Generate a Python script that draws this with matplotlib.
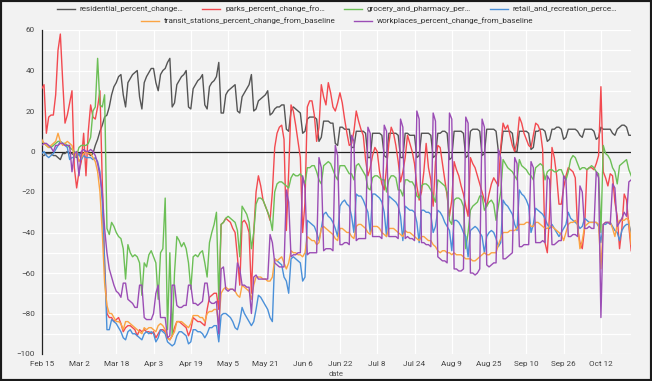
import pandas as pd
import matplotlib
matplotlib.use("Agg")
import matplotlib.pyplot as plt
from matplotlib.ticker import MultipleLocator
from matplotlib.patches import Rectangle

plt.rcParams['font.family'] = ['Roboto', 'DejaVu Sans']

# datos diarios desde el 15 de febrero (una fila = una semana, sab..vie)
start = "2020-02-15"

residential = [
    -2, -2, -1, -1, -1, -2, -2,
    -3, -4, -1, -1, 0, -1, -1,
    -2, -3, -1, -1, -1, 0, -1,
    -2, -1, 3, 6, 10, 13, 17,
    18, 22, 28, 32, 34, 37, 38,
    28, 22, 34, 36, 38, 39, 40,
    27, 21, 34, 37, 39, 41, 41,
    34, 30, 38, 40, 41, 44, 46,
    22, 24, 33, 35, 37, 38, 40,
    22, 21, 31, 33, 35, 36, 38,
    23, 21, 32, 34, 35, 37, 44,
    19, 19, 28, 30, 31, 32, 33,
    20, 19, 27, 29, 31, 33, 38,
    20, 21, 25, 26, 27, 28, 30,
    18, 19, 21, 22, 22, 23, 23,
    11, 10, 20, 22, 21, 20, 19,
    9, 10, 16, 17, 17, 17, 16,
    5, 7, 15, 15, 15, 14, 14,
    4, 3, 12, 12, 11, 11, 11,
    2, 2, 10, 10, 10, 10, 9,
    -3, -3, 9, 9, 9, 9, 8,
    -2, -3, 9, 9, 9, 9, 8,
    -3, -3, 9, 9, 8, 8, 8,
    -3, -2, 9, 9, 9, 9, 8,
    -3, -2, 9, 9, 10, 10, 9,
    -4, -3, 10, 10, 10, 10, 9,
    -3, -2, 10, 11, 11, 11, 10,
    -2, -1, 11, 11, 11, 11, 10,
    0, 0, 10, 10, 10, 10, 9,
    0, 0, 10, 10, 10, 10, 9,
    1, 2, 10, 10, 11, 11, 10,
    5, 6, 11, 11, 12, 12, 11,
    6, 7, 11, 11, 11, 11, 10,
    8, 7, 11, 11, 11, 11, 10,
    6, 7, 12, 11, 11, 11, 11,
    9, 8, 11, 12, 13, 13, 12,
    8, 8]

parks = [
    31, 33, 9, 17, 18, 18, 28,
    50, 58, 35, 14, 18, 24, 30,
    -8, -18, -10, -5, 9, -12, 10,
    23, 17, 16, 22, 30, -15, -55,
    -80, -82, -82, -84, -83, -82, -85,
    -89, -87, -86, -86, -87, -88, -91,
    -88, -89, -88, -89, -89, -90, -89,
    -92, -90, -88, -88, -89, -92, -93,
    -91, -87, -84, -84, -85, -86, -87,
    -91, -88, -82, -83, -84, -84, -85,
    -86, -78, -72, -71, -70, -70, -78,
    -36, -35, -33, -34, -35, -38, -40,
    -52, -66, -35, -34, -36, -40, -70,
    -40, -20, -12, -17, -24, -27, -30,
    -34, -20, 2, 9, 12, 13, 6,
    -39, -10, 23, 20, 13, 5, -3,
    -40, -25, 22, 25, 25, 18, 5,
    12, 33, 27, 23, 34, 29, 22,
    20, 24, 29, 24, 16, 9, 3,
    4, 10, 20, 15, 11, 8, -4,
    -12, -8, -2, 2, 0, -10, -16,
    -19, -8, 4, 12, 9, 3, -5,
    -15, -10, -3, 8, 4, 0, -6,
    -17, -24, -20, -10, 4, -8, -14,
    -27, -5, 3, 2, -6, -14, -22,
    -32, -24, -5, -9, -12, -17, -21,
    -27, -32, -3, -6, -8, -12, -16,
    -20, -24, -27, -21, -16, -13, -15,
    -17, 2, 14, 11, 13, 8, 3,
    0, 5, 17, 14, 9, 6, 3,
    2, 8, 14, 13, 10, 1, -45,
    -50, -30, 2, -3, -12, -26, -26,
    -18, -12, -8, -9, -10, -13, -38,
    -45, -48, -38, -9, -8, -8, -9,
    -6, -2, 32, -10, -13, -17, -11,
    -12, -25, -32, -48, -38, -21, -24,
    -37, -49]

grocery = [
    5, 4, 3, 2, 2, 3, 4,
    5, 5, 4, 4, 3, 2, 1,
    0, -2, 2, 3, 3, 3, 4,
    7, 20, 22, 46, 23, 22, 28,
    -38, -41, -35, -37, -40, -42, -43,
    -48, -63, -46, -50, -52, -51, -52,
    -55, -71, -55, -57, -51, -49, -52,
    -55, -73, -50, -48, -23, -88, -50,
    -91, -60, -42, -44, -47, -45, -48,
    -55, -68, -52, -51, -52, -50, -49,
    -55, -62, -45, -40, -36, -30, -73,
    -36, -35, -33, -32, -33, -34, -35,
    -39, -52, -27, -29, -31, -35, -48,
    -40, -26, -23, -23, -24, -27, -30,
    -33, -39, -20, -16, -15, -15, -16,
    -17, -18, -13, -11, -12, -12, -11,
    -13, -16, -8, -8, -7, -7, -10,
    -14, -16, -7, -6, -5, -6, -9,
    -12, -14, -7, -7, -7, -9, -11,
    -11, -14, -7, -6, -8, -10, -12,
    -18, -19, -13, -12, -12, -13, -14,
    -14, -20, -14, -12, -12, -13, -19,
    -19, -22, -14, -14, -15, -15, -17,
    -22, -23, -17, -16, -16, -17, -19,
    -22, -25, -14, -15, -16, -17, -20,
    -34, -36, -24, -23, -23, -24, -27,
    -48, -40, -29, -27, -26, -25, -22,
    -22, -29, -27, -25, -24, -26, -34,
    -27, -20, -4, -6, -8, -9, -10,
    -12, -14, -4, -7, -8, -9, -11,
    -12, -14, -8, -7, -6, -7, -14,
    -10, -9, -9, -10, -10, -9, -9,
    -12, -14, -10, -4, -2, -3, -6,
    -9, -8, -8, -9, -8, -7, -8,
    -10, -11, -40, 3, -1, -2, -4,
    -8, -10, -16, -7, -6, -5, -4,
    -9, -12]

retail = [
    -1, 0, -2, -3, -2, -1, 1,
    3, 5, 4, 3, 2, -4, -3,
    -3, -2, -1, -4, -2, -3, -3,
    -3, -4, -3, -5, -10, -25, -55,
    -88, -88, -83, -84, -85, -87, -89,
    -92, -93, -89, -88, -90, -90, -91,
    -92, -93, -90, -89, -90, -89, -90,
    -94, -92, -88, -89, -90, -94, -95,
    -96, -95, -91, -89, -89, -90, -91,
    -95, -94, -88, -88, -89, -89, -90,
    -92, -90, -87, -87, -86, -86, -94,
    -81, -80, -80, -81, -82, -84, -87,
    -88, -84, -77, -80, -82, -84, -86,
    -84, -78, -71, -72, -74, -76, -78,
    -82, -84, -53, -54, -55, -56, -62,
    -64, -70, -53, -52, -53, -54, -55,
    -64, -62, -34, -35, -36, -37, -40,
    -44, -38, -31, -30, -32, -33, -35,
    -38, -42, -27, -25, -24, -26, -27,
    -32, -40, -21, -22, -22, -24, -27,
    -30, -40, -21, -21, -22, -23, -25,
    -30, -42, -22, -23, -24, -25, -27,
    -32, -44, -27, -28, -29, -29, -30,
    -35, -45, -29, -29, -30, -30, -31,
    -40, -37, -29, -30, -32, -35, -37,
    -39, -49, -34, -34, -35, -37, -40,
    -42, -52, -39, -38, -37, -38, -40,
    -42, -50, -42, -40, -39, -40, -43,
    -47, -45, -24, -26, -27, -29, -31,
    -36, -39, -19, -21, -22, -24, -27,
    -40, -36, -28, -29, -30, -31, -33,
    -36, -38, -36, -38, -40, -42, -40,
    -38, -36, -30, -33, -34, -35, -36,
    -38, -37, -33, -34, -35, -35, -35,
    -35, -37, -45, -36, -36, -35, -35,
    -37, -39, -40, -44, -39, -37, -36,
    -36, -40]

transit = [
    6, 4, 3, 2, 3, 4, 5,
    9, 5, 3, 4, 5, 4, 3,
    -3, 0, -5, -3, -1, 0, -1,
    -1, -3, -5, -10, -20, -40, -65,
    -76, -80, -80, -82, -84, -84, -85,
    -88, -84, -84, -85, -86, -87, -88,
    -89, -90, -87, -88, -87, -87, -88,
    -89, -86, -85, -86, -88, -92, -93,
    -91, -89, -84, -84, -84, -85, -86,
    -87, -85, -81, -81, -81, -82, -82,
    -84, -80, -79, -79, -78, -78, -85,
    -70, -68, -67, -68, -68, -68, -69,
    -71, -72, -66, -67, -68, -69, -73,
    -66, -62, -62, -62, -63, -63, -64,
    -64, -62, -53, -54, -53, -52, -55,
    -58, -55, -49, -50, -50, -51, -51,
    -52, -50, -42, -43, -44, -44, -46,
    -45, -38, -37, -38, -39, -40, -41,
    -43, -44, -38, -38, -39, -40, -40,
    -42, -43, -37, -36, -36, -37, -38,
    -40, -41, -37, -37, -37, -38, -40,
    -41, -42, -38, -38, -38, -39, -40,
    -41, -42, -39, -40, -40, -41, -42,
    -43, -44, -42, -42, -43, -44, -44,
    -46, -47, -49, -50, -49, -49, -50,
    -50, -51, -50, -51, -51, -51, -52,
    -53, -53, -53, -54, -54, -53, -52,
    -51, -50, -51, -51, -50, -50, -50,
    -46, -43, -40, -40, -40, -39, -39,
    -39, -38, -36, -36, -36, -35, -35,
    -37, -37, -35, -35, -36, -37, -38,
    -38, -37, -37, -38, -39, -40, -41,
    -44, -40, -36, -35, -35, -34, -36,
    -48, -44, -37, -36, -35, -35, -35,
    -35, -36, -58, -36, -35, -35, -35,
    -38, -42, -36, -34, -34, -34, -33,
    -34, -46]

workplaces = [
    3, 4, 4, 3, 2, 0, 3,
    3, 4, 4, 3, 3, 3, -10,
    -1, 0, -12, 0, 1, 0, 0,
    1, 0, -2, -6, -12, -20, -38,
    -50, -58, -62, -66, -69, -70, -72,
    -65, -65, -73, -74, -75, -77, -77,
    -66, -66, -82, -83, -83, -83, -80,
    -70, -66, -82, -82, -82, -92, -91,
    -66, -66, -76, -77, -77, -76, -76,
    -66, -66, -75, -75, -76, -75, -74,
    -65, -65, -74, -75, -75, -74, -90,
    -58, -57, -68, -69, -68, -68, -69,
    -55, -58, -66, -66, -67, -67, -80,
    -62, -61, -63, -63, -63, -63, -63,
    -41, -45, -55, -56, -57, -57, -57,
    -19, -25, -52, -51, -51, -50, -50,
    -12, -18, -51, -50, -50, -50, -50,
    -3, -8, -49, -48, -48, -48, -49,
    3, -2, -46, -46, -45, -45, -46,
    8, 5, -44, -43, -43, -43, -43,
    12, 9, -42, -42, -42, -42, -43,
    13, 10, -42, -42, -42, -42, -43,
    16, 12, -43, -42, -43, -43, -44,
    20, 16, -45, -45, -46, -46, -47,
    19, 15, -52, -53, -54, -54, -55,
    19, 16, -58, -58, -59, -59, -58,
    17, 14, -60, -60, -61, -60, -58,
    16, 12, -56, -57, -56, -55, -55,
    1, -3, -53, -53, -52, -51, -50,
    -3, -6, -47, -47, -46, -46, -46,
    -5, -8, -45, -45, -45, -44, -45,
    -12, -14, -46, -46, -45, -44, -44,
    -12, -14, -42, -42, -41, -41, -42,
    -17, -20, -38, -38, -37, -38, -38,
    -10, -13, -82, -36, -35, -35, -36,
    -16, -18, -37, -35, -33, -30, -32,
    -15, -14]

etiquetas = [
    "residential_percent_change\u2026",
    "parks_percent_change_fro\u2026",
    "grocery_and_pharmacy_per\u2026",
    "retail_and_recreation_perce\u2026",
    "transit_stations_percent_change_from_baseline",
    "workplaces_percent_change_from_baseline",
]
tick_labels = ["Feb 15", "Mar 2", "Mar 18", "Apr 3", "Apr 19", "May 5", "May 21", "Jun 6",
               "Jun 22", "Jul 8", "Jul 24", "Aug 9", "Aug 25", "Sep 10", "Sep 26", "Oct 12"]

colores = ["#555555", "#f24a50", "#6cbf56", "#4a90d9", "#fba443", "#9b4db5"]
fondo = "#f2f2f2"

fig = plt.figure(figsize=(6.52, 3.81), dpi=100, facecolor=fondo)
ax = fig.add_axes([41.7 / 652, 27 / 381, 589.5 / 652, 324 / 381])
ax.set_facecolor(fondo)

series = [residential, parks, grocery, retail, transit, workplaces]
lineas = []
for vals, col, lab in zip(series, colores, etiquetas):
    x = pd.date_range(start, periods=len(vals), freq="D")
    ln, = ax.plot(x, vals, color=col, lw=1.0, label=lab, zorder=3)
    lineas.append(ln)

# linea del cero
ax.axhline(0, color="#222222", lw=0.9, zorder=2)

t0 = pd.Timestamp(start)
ax.set_xlim(t0, t0 + pd.Timedelta(days=253))
ax.set_ylim(-100, 60)
ax.set_xticks(pd.date_range(start, periods=len(tick_labels), freq="16D"))
ax.set_xticklabels(tick_labels)
ax.set_yticks(range(-100, 61, 20))
ax.yaxis.set_minor_locator(MultipleLocator(10))

ax.grid(which="major", color="white", lw=0.9, zorder=0)
ax.grid(which="minor", axis="y", color="white", lw=0.9, zorder=0)
ax.set_axisbelow(True)

for s in ["top", "right", "bottom"]:
    ax.spines[s].set_visible(False)
ax.spines["left"].set_color("#222222")
ax.spines["left"].set_linewidth(0.9)
ax.tick_params(which="both", length=0, labelsize=5.9, colors="#444444", pad=5)

ax.set_xlabel("date", fontsize=5.5, color="#555555", labelpad=3)

# leyenda en dos filas centradas
leg_kw = dict(loc="center", frameon=False, fontsize=5.9, handlelength=2.2,
              handletextpad=0.6, columnspacing=2.3, labelcolor="#333333")
fig.legend(lineas[:4], etiquetas[:4], ncol=4,
           bbox_to_anchor=(337 / 652, 1 - 9 / 381), **leg_kw)
fig.legend(lineas[4:], etiquetas[4:], ncol=2,
           bbox_to_anchor=(337 / 652, 1 - 21 / 381), **leg_kw)

# marco exterior
fig.add_artist(Rectangle((0, 0), 1, 1, transform=fig.transFigure, fill=False,
                         edgecolor="#1a1a1a", lw=3))

fig.savefig("out.png", dpi=100, facecolor=fig.get_facecolor())
